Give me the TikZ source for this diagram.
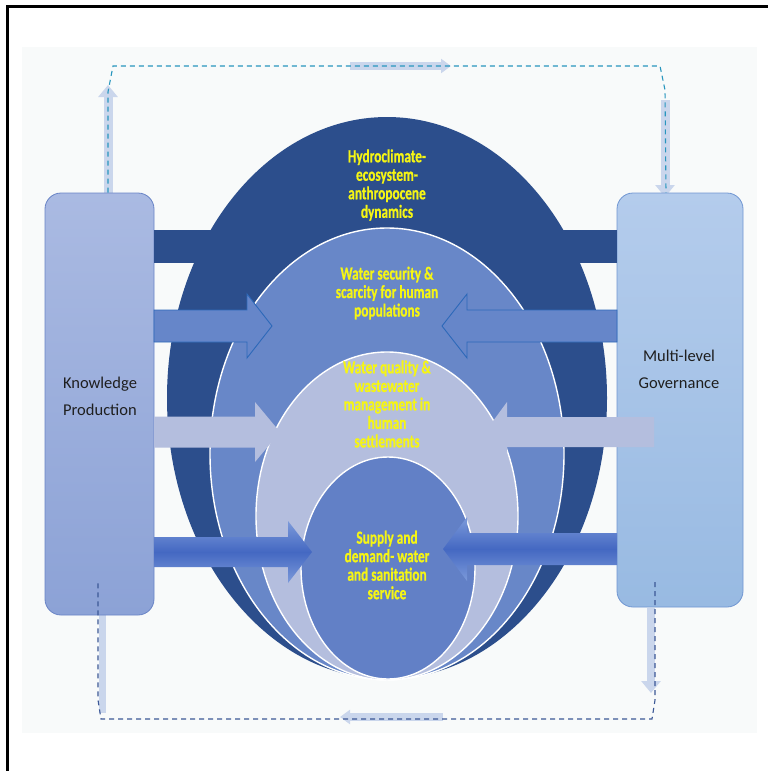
\documentclass[tikz,border=0pt]{standalone}
\usepackage{fontspec}
\setmainfont{Carlito}
\newfontfamily\condfont{Carlito}[FakeStretch=0.72, BoldFeatures={FakeBold=0.6}]
\usetikzlibrary{shapes.geometric,arrows.meta}

\definecolor{bgpage}{RGB}{248,250,250}
\definecolor{ringdark}{RGB}{44,78,140}
\definecolor{ringmid}{RGB}{104,135,200}
\definecolor{ringpale}{RGB}{180,190,222}
\definecolor{ringcore}{RGB}{98,128,198}
\definecolor{arrowline}{RGB}{45,105,185}
\definecolor{arrowfill}{RGB}{102,134,201}
\definecolor{arrowdark}{RGB}{68,104,194}
\definecolor{arrowlight}{RGB}{124,154,218}
\definecolor{kptop}{RGB}{170,186,226}
\definecolor{kpbot}{RGB}{140,162,214}
\definecolor{kpline}{RGB}{105,132,198}
\definecolor{mgtop}{RGB}{180,204,236}
\definecolor{mgbot}{RGB}{152,186,226}
\definecolor{mgline}{RGB}{112,150,210}
\definecolor{flowlight}{RGB}{202,214,236}
\definecolor{dashteal}{RGB}{40,150,190}
\definecolor{dashblue}{RGB}{60,88,150}
\definecolor{ytext}{RGB}{245,245,20}

% block arrow: style, x start, x head base, x tip, y, half shaft, half head
\newcommand{\blockarrow}[7]{%
  \path[#1] (#2,{#5-#6}) -- (#3,{#5-#6}) -- (#3,{#5-#7}) -- (#4,#5)
    -- (#3,{#5+#7}) -- (#3,{#5+#6}) -- (#2,{#5+#6}) -- cycle;}

\begin{document}
\begin{tikzpicture}[x=1pt, y=-1pt,
    box/.style={rectangle, rounded corners=16pt, line width=0.8pt, inner sep=0pt},
    boxtext/.style={align=center, text=black!88, font=\fontsize{16.5}{27}\selectfont},
    ring/.style={ellipse, inner sep=0pt, draw=white, line width=1.4pt},
    ringtext/.style={align=center, text=ytext, font=\condfont\bfseries\fontsize{18.5}{18.5}\selectfont},
    sidearrow/.style={fill=arrowfill, draw=arrowline, line width=0.9pt},
    palearrow/.style={fill=ringpale},
    deeparrow/.style={top color=arrowlight, bottom color=arrowlight, middle color=arrowdark},
    flowbar/.style={draw=flowlight, line width=9pt, -{Triangle[width=19pt,length=12pt]}},
    topdash/.style={draw=dashteal, line width=1.1pt, dash pattern=on 5pt off 4pt},
    botdash/.style={draw=dashblue, line width=1.1pt, dash pattern=on 5pt off 4pt}]
    \useasboundingbox (0,0) rectangle (768,771);
    % page and frame
    \fill[bgpage] (22,47) rectangle (757,733);
    \draw[line width=3pt] (7,771) -- (7,6) -- (768,6);
    % light flow bars
    \draw[flowbar] (108,197) -- (108,85);
    \draw[flowbar, line width=8pt, -{Triangle[width=14pt,length=10pt]}] (350,66) -- (451,66);
    \draw[flowbar] (665,100) -- (665,197);
    \draw[flowbar, line width=8pt] (651,608) -- (651,693);
    \draw[flowbar, line width=8pt, -{Triangle[width=14pt,length=10pt]}] (443,717) -- (340,717);
    \draw[draw=flowlight, line width=7pt] (102,713) -- (102,612);
    % side boxes
    \node[box, top color=kptop, bottom color=kpbot, draw=kpline, minimum width=109pt, minimum height=422pt] (kp) at (99.5,404) {};
    \node[box, top color=mgtop, bottom color=mgbot, draw=mgline, minimum width=126pt, minimum height=414pt] (mg) at (680,400) {};
    \node[boxtext] (kplabel) at (100,396) {Knowledge\\Production};
    \node[boxtext] (mglabel) at (679,369) {Multi-level\\Governance};
    % top band behind the rings
    \fill[ringdark] (kp.east |- 0,230) rectangle (mg.west |- 0,263);
    % nested rings
    \node[ring, fill=ringdark, draw=none, minimum width=440pt, minimum height=562pt] (hydro) at (387,398) {};
    \node[ring, fill=ringmid, minimum width=354pt, minimum height=452pt] (security) at (387,454) {};
    \node[ring, fill=ringpale, minimum width=262pt, minimum height=328pt] (quality) at (387,516) {};
    \node[ring, fill=ringcore, minimum width=174pt, minimum height=222pt] (supply) at (388,568) {};
    % block arrows
    \blockarrow{sidearrow}{154}{247}{272}{326}{16}{32}
    \blockarrow{sidearrow}{617}{467}{442}{326}{16}{32}
    \blockarrow{palearrow}{154}{255}{280}{432}{15.5}{30}
    \blockarrow{palearrow}{654}{507}{485}{432}{15}{30}
    \blockarrow{deeparrow}{154}{288}{312}{552}{15}{31}
    \blockarrow{deeparrow}{617}{467}{443}{549}{16}{32}
    % ring texts
    \node[ringtext] (hydrotext) at (387,185) {Hydroclimate-\\ecosystem-\\anthropocene\\dynamics};
    \node[ringtext] (securitytext) at (387,293) {Water security \&\\scarcity for human\\populations};
    \node[ringtext] (qualitytext) at (387,404) {Water quality \&\\wastewater\\management in\\human\\settlements};
    \node[ringtext] (supplytext) at (387,565) {Supply and\\demand- water\\and sanitation\\service};
    % feedback loop
    \coordinate (kpdash) at (98,582);
    \coordinate (mgdash) at (655,582);
    \path[topdash] ([xshift=8.5pt]kp.north) -- (108,92) -- (113,66) -- (660,66) -- (665,90) -- ([xshift=-14pt]mg.north);
    \path[botdash] (mgdash) -- (655,700) -- (652,719) -- (101,719) -- (98,700) -- (kpdash);
\end{tikzpicture}
\end{document}
